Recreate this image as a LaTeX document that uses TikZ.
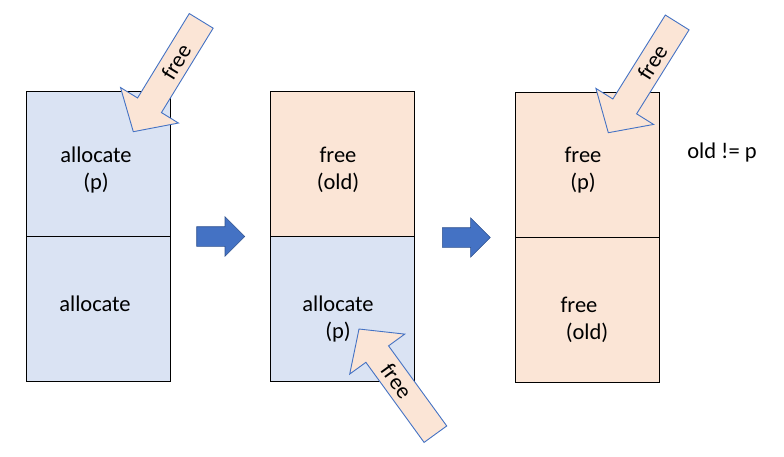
\documentclass[tikz,border=0pt]{standalone}
\usepackage{fontspec}
\setmainfont{Carlito}
\usetikzlibrary{positioning}

\definecolor{allocblue}{HTML}{DAE3F3}
\definecolor{freeorange}{HTML}{FBE5D6}
\definecolor{arrowblue}{HTML}{4472C4}
\definecolor{arrowedge}{HTML}{2F528F}

\tikzset{
	cell/.style={draw=black, line width=1.1pt, outer sep=0pt, inner sep=0pt,
		minimum width=144pt, minimum height=145pt},
	txt/.style={font=\fontsize{22.5}{27}\selectfont, align=center, inner sep=0pt, anchor=base},
	freearrow/.style={draw=arrowblue, line width=0.9pt, fill=freeorange, line join=miter},
	blockarrow/.style={draw=arrowedge, line width=0.6pt, fill=arrowblue},
}

% arrow with "free" on it: tip, direction, distance of the text, name
\newcommand{\freearrow}[4]{%
	\begin{scope}[shift={#1}, rotate=#2]
		\draw[freearrow] (0,0) -- (-31,34) -- (-31,14) -- (-130,14) -- (-130,-14) -- (-31,-14) -- (-31,-34) -- cycle;
		\node[txt, anchor=center, rotate=#2-180] (#4) at (-#3,0) {free};
	\end{scope}}

% step arrow: left end of the shaft
\newcommand{\steparrow}[1]{%
	\begin{scope}[shift={#1}]
		\draw[blockarrow] (0,-9.8) -- (28.3,-9.8) -- (28.3,-19.7) -- (48,0) -- (28.3,19.7) -- (28.3,9.8) -- (0,9.8) -- cycle;
	\end{scope}}

\begin{document}
\begin{tikzpicture}[x=1pt, y=-1pt]
	\useasboundingbox (0,0) rectangle (784,456);

	% first state (base of a two-line text is its last line)
	\node[cell, fill=allocblue] (c1top) at (98.5,164) {};
	\node[cell, fill=allocblue, below=0pt of c1top] (c1bot) {};
	\node[txt] (t1top) at (96,189) {allocate\\(p)};
	\node[txt] (t1bot) at (95,311) {allocate};
	\freearrow{(133.3,131.7)}{238.5}{82}{f1}

	\steparrow{(196.7,236.5)}

	% second state
	\node[cell, fill=freeorange] (c2top) at (342.5,164) {};
	\node[cell, fill=allocblue, below=0pt of c2top] (c2bot) {};
	\node[txt] (t2top) at (338,189) {free\\(old)};
	\node[txt] (t2bot) at (338,338) {allocate\\(p)};
	\freearrow{(359,329)}{126}{64}{f2}

	\steparrow{(442.3,237.5)}

	% third state
	\node[cell, fill=freeorange] (c3top) at (587.5,165) {};
	\node[cell, fill=freeorange, below=0pt of c3top] (c3bot) {};
	\node[txt] (t3top) at (583,189) {free\\(p)};
	\node[txt] (t3bot) at (587,339) {free\rule{16pt}{0pt}\\(old)};
	\freearrow{(608.3,132.7)}{238}{83}{f3}

	\node[txt] (cond) at (722,158.3) {old != p};
\end{tikzpicture}
\end{document}
